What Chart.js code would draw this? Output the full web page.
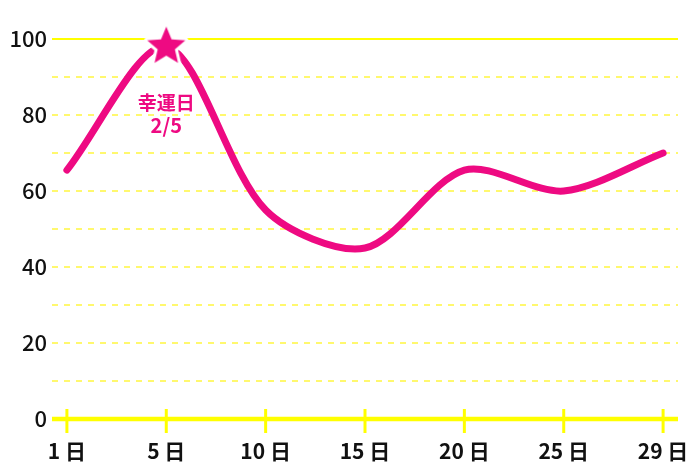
<!DOCTYPE html>
<html><head><meta charset="utf-8">
<script src="https://cdn.jsdelivr.net/npm/chart.js@4/dist/chart.umd.min.js"></script>
<style>html,body{margin:0;padding:0;background:#fff}</style>
</head><body>
<canvas id="c" width="700" height="467"></canvas>
<script>
const categories = ['1 日','5 日','10 日','15 日','20 日','25 日','29 日'];
const values = [65.5, 98, 55, 45, 65.5, 60, 70];
const yTicks = [0, 20, 40, 60, 80, 100];
const dashedGrid = [10, 20, 30, 40, 50, 60, 70, 80, 90];
const highlightIndex = 1;
const highlightText = ['幸運日', '2/5'];

const PINK = '#ee0a82';
const YELLOW = '#ffff00';
const LIGHT_YELLOW = '#fff86e';
const FONT = "'Noto Sans CJK JP', 'Noto Sans', sans-serif";

// star marker image
const star = document.createElement('canvas');
star.width = 54; star.height = 54;
(function(){
  const g = star.getContext('2d');
  const cx = 27, cy = 27, R = 20, r = 9;
  g.beginPath();
  for (let i = 0; i < 10; i++) {
    const rad = (i % 2 === 0) ? R : r;
    const a = -Math.PI / 2 + i * Math.PI / 5;
    const px = cx + rad * Math.cos(a), py = cy + rad * Math.sin(a);
    i === 0 ? g.moveTo(px, py) : g.lineTo(px, py);
  }
  g.closePath();
  g.lineJoin = 'round';
  g.strokeStyle = '#ffffff';
  g.lineWidth = 6;
  g.stroke();
  g.fillStyle = PINK;
  g.fill();
})();

const decor = {
  id: 'decor',
  beforeDatasetsDraw(chart) {
    const {ctx, chartArea: a, scales: {x, y}} = chart;
    ctx.save();
    ctx.lineWidth = 2;
    ctx.strokeStyle = LIGHT_YELLOW;
    ctx.setLineDash([6, 6]);
    dashedGrid.forEach(v => {
      const py = Math.round(y.getPixelForValue(v));
      ctx.beginPath(); ctx.moveTo(a.left, py); ctx.lineTo(a.right, py); ctx.stroke();
    });
    ctx.setLineDash([]);
    ctx.strokeStyle = YELLOW;
    ctx.lineWidth = 2;
    const top = Math.round(y.getPixelForValue(100));
    ctx.beginPath(); ctx.moveTo(a.left, top); ctx.lineTo(a.right, top); ctx.stroke();
    const base = y.getPixelForValue(0);
    ctx.lineWidth = 4.5;
    ctx.beginPath(); ctx.moveTo(a.left, base); ctx.lineTo(a.right, base); ctx.stroke();
    ctx.lineWidth = 3;
    categories.forEach((c, i) => {
      const px = x.getPixelForValue(i);
      ctx.beginPath(); ctx.moveTo(px, base - 10); ctx.lineTo(px, base + 14); ctx.stroke();
    });
    ctx.restore();
  },
  afterDatasetsDraw(chart) {
    const {ctx} = chart;
    const p = chart.getDatasetMeta(0).data[highlightIndex];
    ctx.save();
    ctx.fillStyle = PINK;
    ctx.textAlign = 'center';
    ctx.textBaseline = 'middle';
    ctx.font = 'bold 19px ' + FONT;
    ctx.fillText(highlightText[0], p.x, p.y + 56);
    ctx.font = 'bold 20px ' + FONT;
    ctx.fillText(highlightText[1], p.x, p.y + 79);
    ctx.restore();
  }
};

new Chart(document.getElementById('c'), {
  type: 'line',
  data: {
    datasets: [{
      data: values.map((v, i) => ({x: i, y: v})),
      borderColor: PINK,
      backgroundColor: PINK,
      borderWidth: 7,
      borderCapStyle: 'round',
      borderJoinStyle: 'round',
      tension: 0.3,
      fill: false,
      clip: false,
      pointRadius: c => c.dataIndex === highlightIndex ? 20 : 0,
      pointHoverRadius: c => c.dataIndex === highlightIndex ? 20 : 0,
      pointStyle: c => c.dataIndex === highlightIndex ? star : 'circle'
    }]
  },
  options: {
    responsive: false,
    devicePixelRatio: 1,
    animation: false,
    events: [],
    layout: {padding: {top: 39, right: 22, left: 0, bottom: 0}},
    plugins: {legend: {display: false}, tooltip: {enabled: false}},
    scales: {
      x: {
        type: 'linear', min: -0.15, max: 6.15,
        afterBuildTicks: s => { s.ticks = categories.map((_, i) => ({value: i})); },
        afterFit: s => { s.height = 48; s.paddingLeft = 0; s.paddingRight = 0; },
        grid: {display: false, drawTicks: false},
        border: {display: false},
        ticks: {
          callback: v => categories[v],
          autoSkip: false, maxRotation: 0,
          color: '#111', padding: 19,
          font: {family: FONT, size: 21, weight: 'bold'}
        }
      },
      y: {
        min: 0, max: 100,
        afterBuildTicks: s => { s.ticks = yTicks.map(v => ({value: v})); },
        afterFit: s => { s.width = 52; s.paddingTop = 0; s.paddingBottom = 0; },
        grid: {display: false, drawTicks: false},
        border: {display: false},
        ticks: {
          color: '#111', padding: 5,
          font: {family: FONT, size: 22, weight: '500'}
        }
      }
    }
  },
  plugins: [decor]
});
</script>
</body></html>
